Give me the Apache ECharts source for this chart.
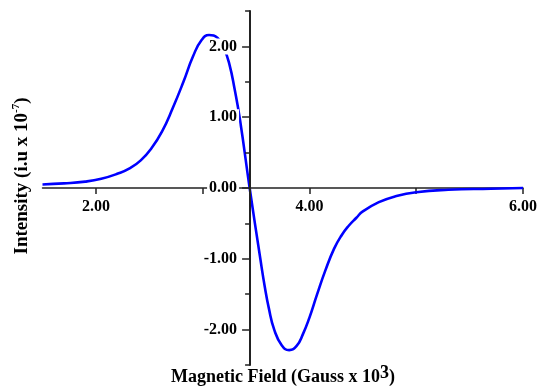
<!DOCTYPE html>
<html>
<head>
<meta charset="utf-8">
<script src="https://cdn.jsdelivr.net/npm/echarts@6/dist/echarts.min.js"></script>
<style>
  html, body { margin: 0; padding: 0; background: #fff; }
  #chart { width: 540px; height: 387px; }
</style>
</head>
<body>
<div id="chart"></div>
<script>
// EPR first-derivative spectrum: field in kG (Gauss x 10^3), intensity in units of 1e-7
const fieldKG = [
  1.50, 1.70, 1.90, 2.05, 2.20, 2.32, 2.42, 2.52, 2.62, 2.72,
  2.82, 2.91, 2.99, 3.06, 3.14, 3.20, 3.25, 3.30, 3.35, 3.44,
  3.54, 3.58, 3.62, 3.67, 3.74, 3.81, 3.88, 3.94, 4.00, 4.07,
  4.15, 4.23, 4.30, 4.37, 4.44, 4.50, 4.65, 4.80, 5.00, 5.30,
  5.70, 6.00
];
const intensity = [
  0.05, 0.065, 0.09, 0.13, 0.20, 0.28, 0.39, 0.56, 0.80, 1.13,
  1.50, 1.86, 2.09, 2.16, 2.12, 1.97, 1.75, 1.39, 0.96, 0.00,
  -1.00, -1.38, -1.70, -2.00, -2.22, -2.29, -2.23, -2.06, -1.83, -1.51,
  -1.16, -0.86, -0.67, -0.53, -0.42, -0.33, -0.20, -0.12, -0.06, -0.025,
  -0.01, 0.00
];

const xTickValues = [2, 3, 4, 5, 6];
const xLabelValues = [2, 4, 6];
const yMajorValues = [-2, -1, 0, 1, 2];
const yAxisCrossing = 3.44; // field value where the vertical axis is drawn

const FONT = '"Liberation Serif", "Times New Roman", serif';
const axisColor = '#222';

const chart = echarts.init(document.getElementById('chart'), null, { renderer: 'canvas' });

const gridLeft = 42.5, gridWidth = 481.5;
const gridTop = 11, gridHeight = 354;
const xMin = 1.5, xMax = 6;
const yMin = -2.5, yMax = 2.5;
// shift the axes inward so they cross at (yAxisCrossing, 0)
const yOffset = -((yAxisCrossing - xMin) / (xMax - xMin)) * gridWidth;
const xOffset = -((0 - yMin) / (yMax - yMin)) * gridHeight;

const commonY = {
  type: 'value',
  min: yMin,
  max: yMax,
  interval: 0.5,
  position: 'left',
  offset: yOffset,
  splitLine: { show: false },
  z: 3
};

chart.setOption({
  animation: false,
  backgroundColor: '#fff',
  grid: { left: gridLeft, width: gridWidth, top: gridTop, height: gridHeight },
  xAxis: {
    type: 'value',
    min: xMin,
    max: xMax,
    interval: 0.5,
    position: 'bottom',
    offset: xOffset,
    axisLine: { onZero: false, lineStyle: { color: axisColor, width: 1.5 } },
    axisTick: { customValues: xTickValues, length: 6, lineStyle: { color: axisColor, width: 1.5 } },
    axisLabel: {
      customValues: xLabelValues,
      formatter: v => v.toFixed(2),
      margin: 11,
      color: '#000',
      fontFamily: FONT,
      fontWeight: 'bold',
      fontSize: 16
    },
    splitLine: { show: false }
  },
  yAxis: [
    Object.assign({}, commonY, {
      axisLine: { onZero: false, lineStyle: { color: axisColor, width: 2 } },
      axisTick: { length: 5, lineStyle: { color: axisColor, width: 1.5 } },
      axisLabel: {
        customValues: yMajorValues,
        formatter: v => v.toFixed(2),
        margin: 11,
        padding: [0, 2],
        backgroundColor: '#fff',
        color: '#000',
        fontFamily: FONT,
        fontWeight: 'bold',
        fontSize: 16
      }
    }),
    Object.assign({}, commonY, {
      axisLine: { show: false, onZero: false },
      axisTick: { customValues: yMajorValues, length: 8, lineStyle: { color: axisColor, width: 1.5 } },
      axisLabel: { show: false }
    })
  ],
  graphic: [
    {
      type: 'text',
      x: 283,
      y: 377,
      style: {
        text: 'Magnetic Field (Gauss x 10{sup|3})',
        font: 'bold 18px ' + FONT,
        fill: '#000',
        align: 'center',
        verticalAlign: 'middle',
        rich: {
          sup: { font: 'bold 18px ' + FONT, fill: '#000', padding: [0, 0, 7, 0] }
        }
      }
    },
    {
      type: 'text',
      x: 22,
      y: 176,
      rotation: Math.PI / 2,
      style: {
        text: 'Intensity (i.u x 10{sup|-7})',
        font: 'bold 19px ' + FONT,
        fill: '#000',
        align: 'center',
        verticalAlign: 'middle',
        rich: {
          sup: { font: 'bold 11px ' + FONT, fill: '#000', padding: [0, 0, 12, 0] }
        }
      }
    }
  ],
  series: [
    {
      type: 'line',
      xAxisIndex: 0,
      yAxisIndex: 0,
      data: fieldKG.map((f, i) => [f, intensity[i]]),
      smooth: 0.5,
      showSymbol: false,
      symbol: 'none',
      lineStyle: { color: '#0000ff', width: 2.6 },
      z: 2
    }
  ]
});
</script>
</body>
</html>
